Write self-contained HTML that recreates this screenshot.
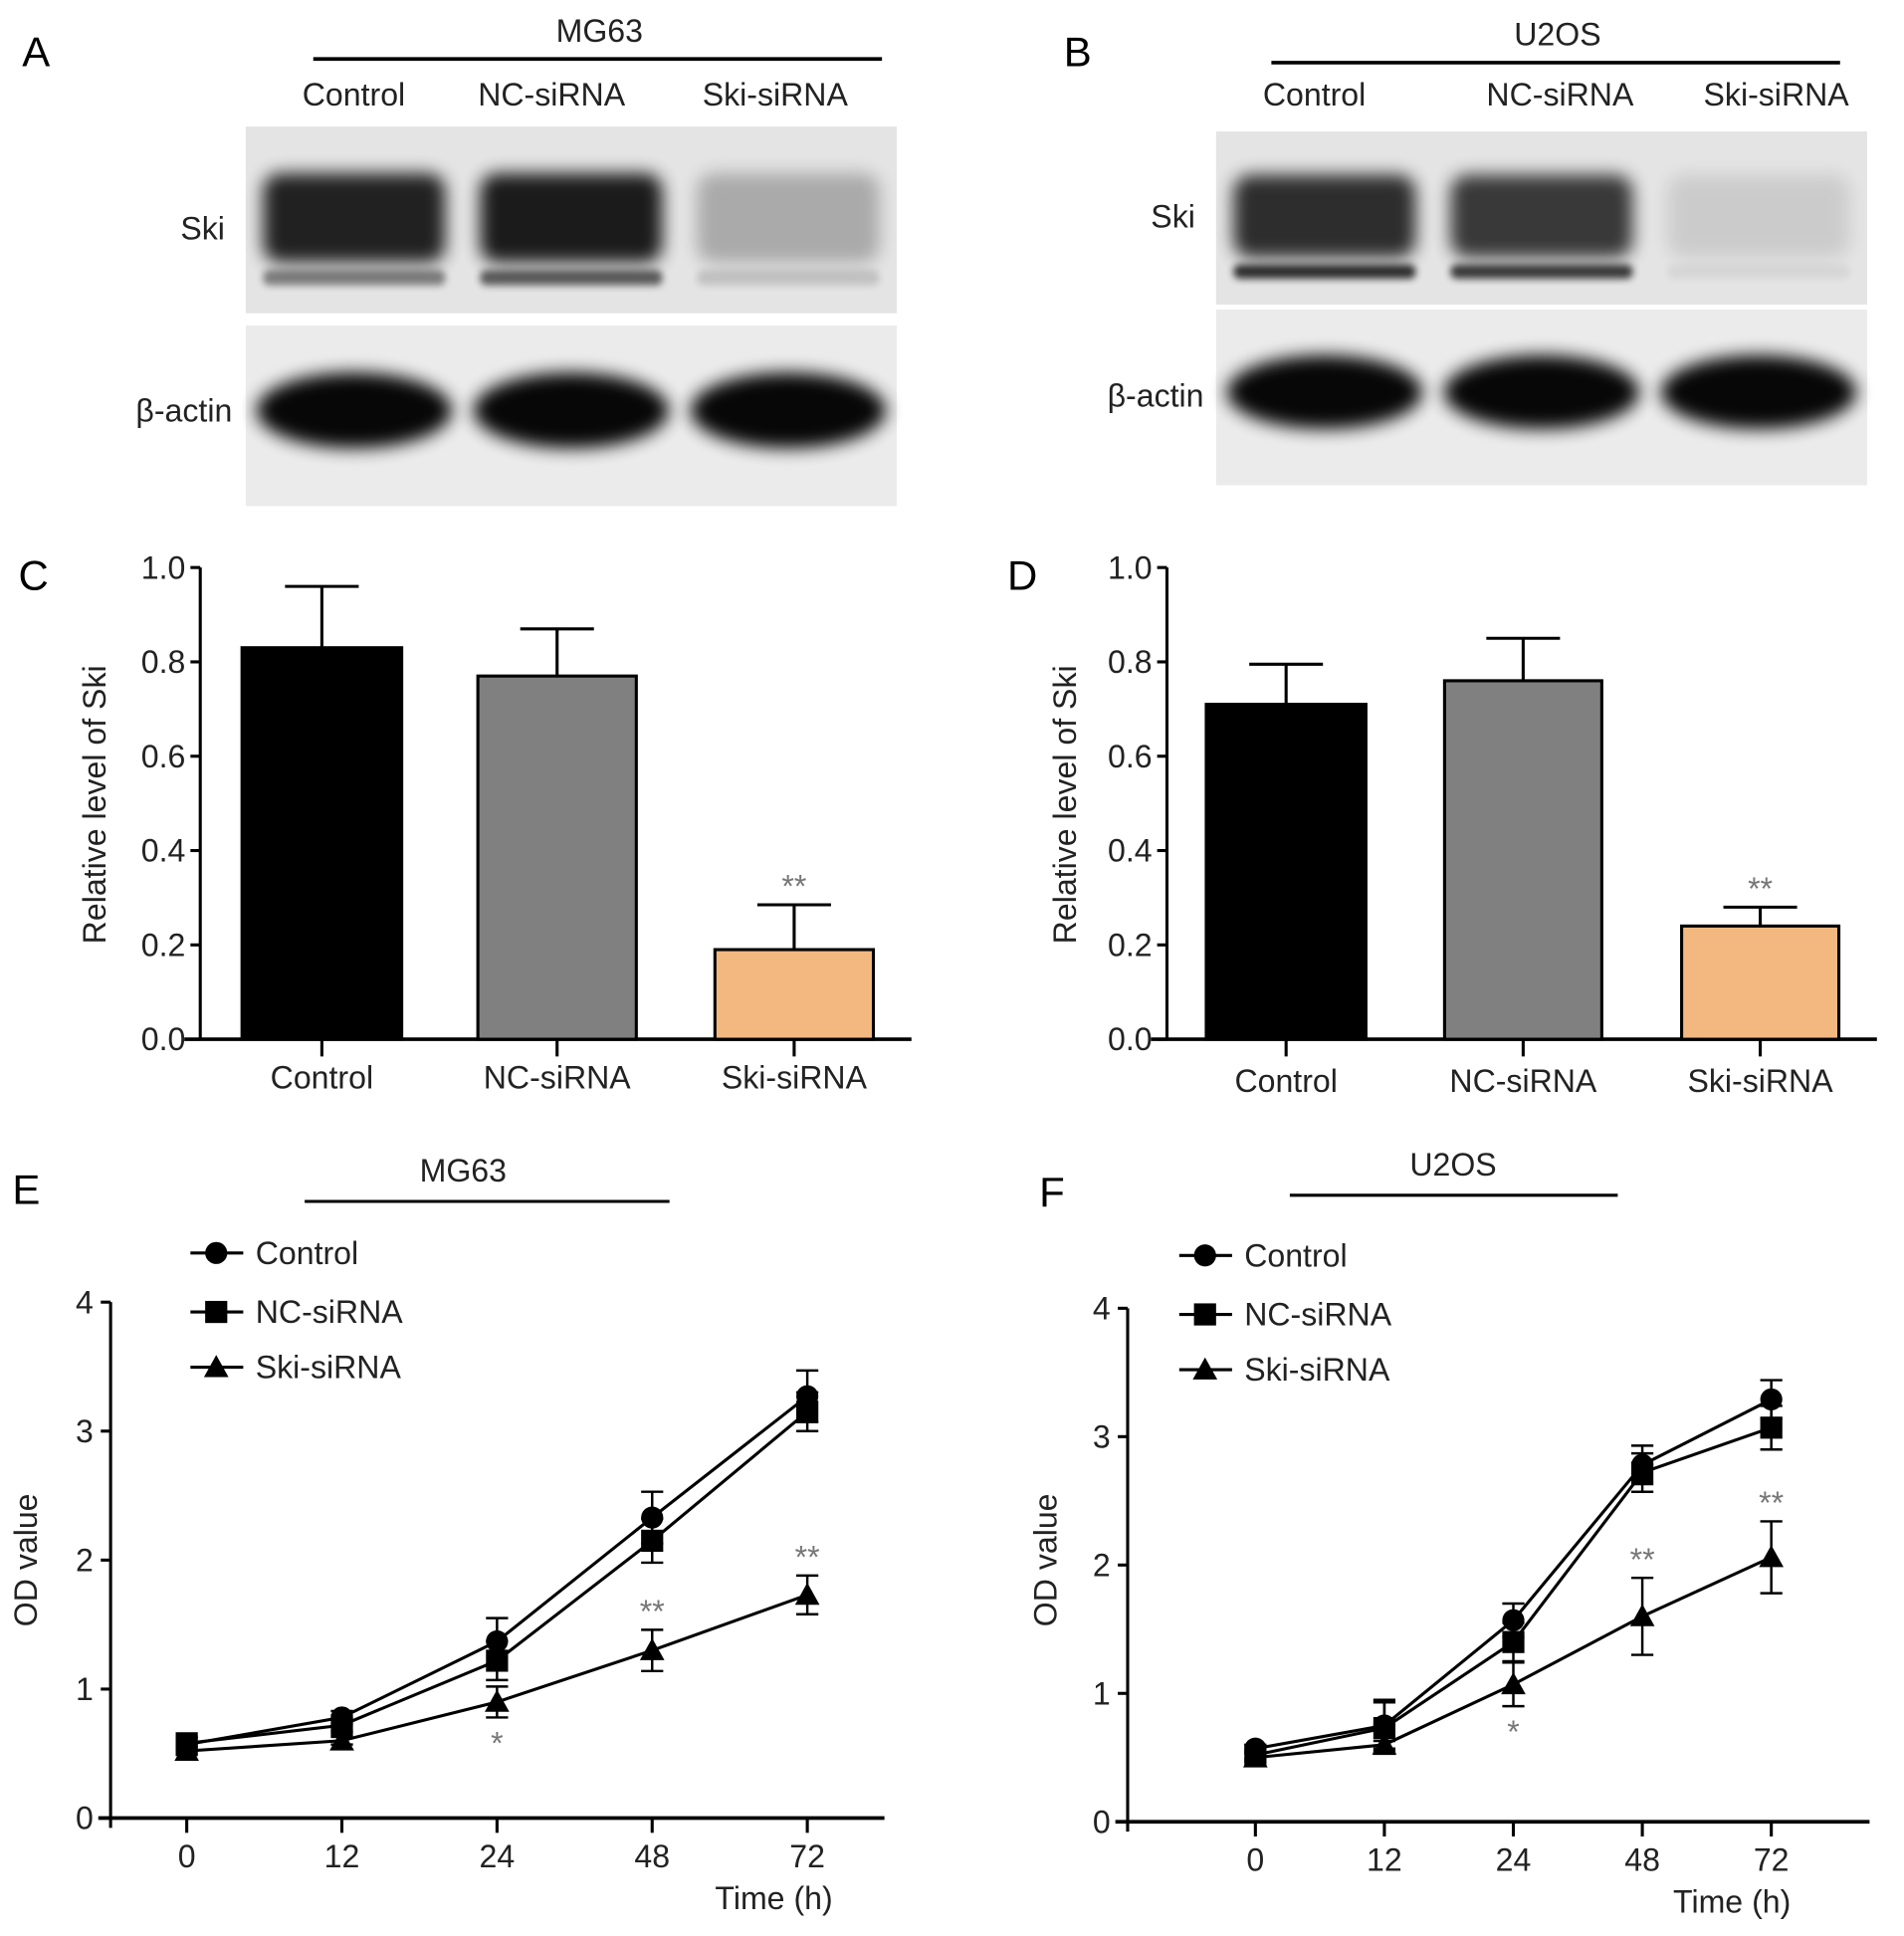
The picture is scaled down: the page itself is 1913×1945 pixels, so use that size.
<!DOCTYPE html>
<html><head><meta charset="utf-8"><style>
html,body{margin:0;padding:0;background:#fff;}
svg{display:block;font-family:"Liberation Sans",Arial,sans-serif;}
</style></head><body>
<svg id="fig" width="1913" height="1945" viewBox="0 0 1550 1576" xmlns="http://www.w3.org/2000/svg">
<defs>
<filter id="blur6" x="-20%" y="-50%" width="140%" height="200%"><feGaussianBlur stdDeviation="7"/></filter>
<filter id="blur3" x="-20%" y="-50%" width="140%" height="200%"><feGaussianBlur stdDeviation="3"/></filter>
</defs>
<g id="root"></g>
</svg>
<script>
// ---- data ----
const barCategories = ["Control","NC-siRNA","Ski-siRNA"];
const barC_values = [0.83,0.77,0.19];
const barC_errors = [0.13,0.10,0.095];
const barD_values = [0.71,0.76,0.24];
const barD_errors = [0.085,0.09,0.04];
const barTicks = ["0.0","0.2","0.4","0.6","0.8","1.0"];
const barColors = ["#000000","#808080","#f2b880"];
const timeLabels = ["0","12","24","48","72"];
const odTicks = ["0","1","2","3","4"];
const seriesNames = ["Control","NC-siRNA","Ski-siRNA"];
const E_control = [0.57,0.78,1.37,2.33,3.27];
const E_control_err = [0.05,0.05,0.18,0.2,0.2];
const E_nc = [0.58,0.72,1.22,2.15,3.15];
const E_nc_err = [0.05,0.05,0.15,0.17,0.15];
const E_ski = [0.52,0.6,0.9,1.3,1.73];
const E_ski_err = [0.03,0.03,0.12,0.16,0.15];
const E_stars = ["","","*","**","**"];
const F_control = [0.57,0.75,1.57,2.78,3.29];
const F_control_err = [0.03,0.2,0.13,0.15,0.15];
const F_nc = [0.52,0.73,1.4,2.72,3.07];
const F_nc_err = [0.03,0.2,0.15,0.15,0.17];
const F_ski = [0.5,0.6,1.07,1.6,2.06];
const F_ski_err = [0.03,0.03,0.17,0.3,0.28];
const F_stars = ["","","*","**","**"];

const NS="http://www.w3.org/2000/svg";
const root=document.getElementById('root');
const FS=26;
function el(tag,attrs,parent,text){const e=document.createElementNS(NS,tag);for(const k in attrs)e.setAttribute(k,attrs[k]);if(text!==undefined)e.textContent=text;(parent||root).appendChild(e);return e;}
function txt(x,y,s,size,anchor,parent,name,fill){const t=el('text',{x:x,y:y,'font-size':size,'text-anchor':anchor||'middle',fill:fill||'#222'},parent,s);


return t;}
function line(x1,y1,x2,y2,w,parent){return el('line',{x1:x1,y1:y1,x2:x2,y2:y2,stroke:'#000','stroke-width':w||2.5},parent);}

// ---- panel letters ----
[["A",18,54],["B",866,54],["C",15,480],["D",820,480],["E",10,980],["F",846,982]].forEach(p=>{
 txt(p[1],p[2],p[0],34,'start',root,'panel-label-'+p[0].toLowerCase(),'#000');
});

// ---- blots ----
function blot(name,cx0,hdrCenter,lineX1,lineX2,lineY,labelXs,labelY,box1,box2,skiLbl,actLbl,intens){
 const g=el('g',{});
 
 
 txt(hdrCenter,lineY-14,cx0,FS,'middle',g,'cell-line-title');
 line(lineX1,lineY,lineX2,lineY,3,g);
 labelXs.forEach((x,i)=>txt(x,labelY,barCategories[i],FS,'middle',g,'lane-label'));
 el('rect',{x:box1[0],y:box1[1],width:box1[2],height:box1[3],fill:'#e4e4e4'},g);
 el('rect',{x:box2[0],y:box2[1],width:box2[2],height:box2[3],fill:'#ebebeb'},g);
 txt(skiLbl[0],skiLbl[1],'Ski',FS,'end',g,'ski-label');
 txt(actLbl[0],actLbl[1],'β-actin',FS,'end',g,'actin-label');
 const lw=box1[2]/3;
 intens.forEach((a,i)=>{
   const cx=box1[0]+lw*(i+0.5);
   el('rect',{x:cx-lw*0.42,y:box1[1]+box1[3]*0.25,width:lw*0.84,height:box1[3]*0.48,rx:14,fill:'#000',opacity:a[0],filter:'url(#blur6)'},g);
   el('rect',{x:cx-lw*0.42,y:box1[1]+box1[3]*0.77,width:lw*0.84,height:box1[3]*0.08,rx:5,fill:'#000',opacity:a[1],filter:'url(#blur3)'},g);
   el('ellipse',{cx:cx,cy:box2[1]+box2[3]*0.47,rx:lw*0.45,ry:box2[3]*0.21,fill:'#000',opacity:0.97,filter:'url(#blur6)'},g);
 });
}
blot('blot-mg63','MG63',488,255,718,48,[288,449,631],86,[200,103,530,152],[200,265,530,147],[183,195],[189,343],[[0.85,0.45],[0.88,0.6],[0.25,0.15]]);
blot('blot-u2os','U2OS',1268,1035,1498,51,[1070,1270,1446],86,[990,107,530,141],[990,252,530,143],[973,185],[980,331],[[0.8,0.8],[0.75,0.75],[0.1,0.06]]);

// ---- bar charts ----
function barChart(name,axX,xStart,xEnd,bars,vals,errs,titleX,labelY){
 const g=el('g',{});
 
 
 const y0=846,y1=462;
 const ys=v=>y0-(v)*(y0-y1);
 line(axX,y1,axX,y0+1,2.5,g);
 line(xStart,y0,xEnd,y0,3,g);
 barTicks.forEach(t=>{const y=ys(parseFloat(t));line(axX-8,y,axX,y,2.5,g);txt(axX-12,y+9,t,FS,'end',g,'y-tick-label');});
 const tl=el('text',{x:0,y:0,'font-size':FS,'text-anchor':'middle',fill:'#222',transform:`translate(${titleX+4},655) rotate(-90)`},g,'Relative level of Ski');
 
 
 vals.forEach((v,i)=>{
  const bx=bars[i][0],bw=bars[i][1]-bars[i][0],cx=bx+bw/2;
  line(cx,ys(v+errs[i]),cx,ys(v),2.5,g);
  line(cx-30,ys(v+errs[i]),cx+30,ys(v+errs[i]),2.5,g);
  const r=el('rect',{x:bx,y:ys(v),width:bw,height:y0-ys(v),fill:barColors[i],stroke:'#000','stroke-width':2.5},g);
  
  
  line(cx,y0,cx,y0+14,2.5,g);
  txt(cx,labelY,barCategories[i],FS,'middle',g,'x-tick-label');
  if(i===2) txt(cx,ys(v+errs[i])-6,'**',26,'middle',g,'significance-mark','#777');
 });
}
barChart('bar-chart-c',163,150,742,[[197,327],[389,518],[582,711]],barC_values,barC_errors,82,886);
barChart('bar-chart-d',950,937,1528,[[982,1112],[1176,1304],[1369,1497]],barD_values,barD_errors,872,889);

// ---- line charts ----
function marker(g,k,x,y){
 let m;
 if(k===0) m=el('circle',{cx:x,cy:y,r:9,fill:'#000'},g);
 else if(k===1) m=el('rect',{x:x-9,y:y-9,width:18,height:18,fill:'#000'},g);
 else m=el('polygon',{points:`${x},${y-10} ${x+10},${y+8} ${x-10},${y+8}`,fill:'#000'},g);
 return m;
}
function lineChart(name,cfg,series,errs,stars){
 const g=el('g',{});
 
 
 const ys=v=>cfg.y0-v*(cfg.y0-cfg.y4)/4;
 const xs=i=>cfg.xpos0+i*cfg.xstep;
 txt(cfg.titleX,cfg.titleY,cfg.title,FS,'middle',g,'cell-line-title');
 line(cfg.tl1,cfg.titleY+16,cfg.tl2,cfg.titleY+16,2.5,g);
 line(cfg.axX,cfg.y4,cfg.axX,cfg.y0+8,2.5,g);
 line(cfg.axX-10,cfg.y0,cfg.xEnd,cfg.y0,3,g);
 odTicks.forEach(t=>{const y=ys(+t);line(cfg.axX-8,y,cfg.axX,y,2.5,g);txt(cfg.axX-14,y+9,t,FS,'end',g,'y-tick-label');});
 timeLabels.forEach((t,i)=>{line(xs(i),cfg.y0,xs(i),cfg.y0+12,2.5,g);txt(xs(i),cfg.y0+40,t,FS,'middle',g,'x-tick-label');});
 txt(cfg.timeX,cfg.y0+74,'Time (h)',FS,'middle',g,'x-axis-title');
 const yt=el('text',{x:0,y:0,'font-size':FS,'text-anchor':'middle',fill:'#222',transform:`translate(${cfg.ytX},1270) rotate(-90)`},g,'OD value');
 
 
 series.forEach((s,k)=>{
  const sg=el('g',{},g);
  
  
  el('polyline',{points:s.map((v,i)=>xs(i)+','+ys(v)).join(' '),fill:'none',stroke:'#000','stroke-width':2.5},sg);
  s.forEach((v,i)=>{
   const e=errs[k][i];
   line(xs(i),ys(v-e),xs(i),ys(v+e),2,sg);
   line(xs(i)-9,ys(v+e),xs(i)+9,ys(v+e),2,sg);
   line(xs(i)-9,ys(v-e),xs(i)+9,ys(v-e),2,sg);
   const m=marker(sg,k,xs(i),ys(v));
   
   
  });
  const ly=cfg.legY[k];
  const lg=el('g',{},g);
  
  
  line(cfg.legX,ly,cfg.legX+43,ly,2.5,lg);
  marker(lg,k,cfg.legX+21,ly);
  txt(cfg.legX+53,ly+9,seriesNames[k],FS,'start',lg,'legend-label');
 });
 const ski=series[2],se=errs[2];
 stars.forEach((s,i)=>{ if(!s) return;
  const y = s==='*' ? ys(ski[i]-se[i])+30 : ys(ski[i]+se[i])-6;
  txt(xs(i),y,s,26,'middle',g,'significance-mark','#777');
 });
}
lineChart('line-chart-e',{title:'MG63',titleX:377,titleY:962,tl1:248,tl2:545,axX:90,y0:1480,y4:1060,xEnd:720,xpos0:152,xstep:126.3,timeX:630,ytX:30,legX:155,legY:[1020,1068,1113]},
 [E_control,E_nc,E_ski],[E_control_err,E_nc_err,E_ski_err],E_stars);
lineChart('line-chart-f',{title:'U2OS',titleX:1183,titleY:957,tl1:1050,tl2:1317,axX:918,y0:1483,y4:1065,xEnd:1522,xpos0:1022,xstep:105,timeX:1410,ytX:860,legX:960,legY:[1022,1070,1115]},
 [F_control,F_nc,F_ski],[F_control_err,F_nc_err,F_ski_err],F_stars);
</script>
</body></html>
